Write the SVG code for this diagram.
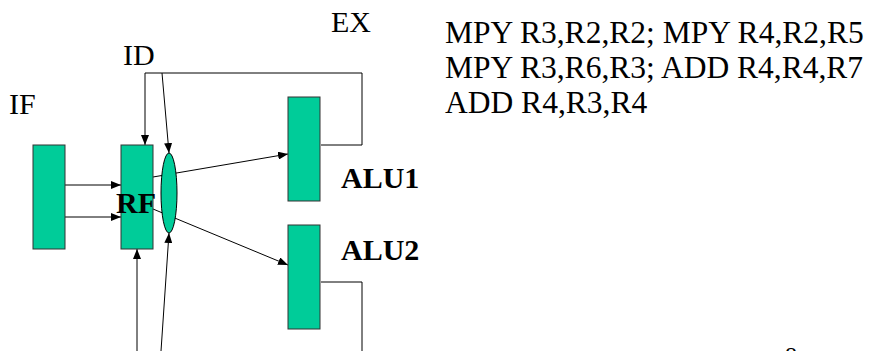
<svg xmlns="http://www.w3.org/2000/svg" width="874" height="351" viewBox="0 0 874 351">
<defs>
<marker id="ah" markerUnits="userSpaceOnUse" markerWidth="10" markerHeight="8" refX="10" refY="4" orient="auto">
<path d="M0,0 L10,4 L0,8 z" fill="#000"/>
</marker>
<style>
.box{fill:#00CC99;stroke:#333;stroke-width:1}
.ln{fill:none;stroke:#000;stroke-width:1}
.ar{fill:none;stroke:#000;stroke-width:1;marker-end:url(#ah)}
.lbl{font-family:"Liberation Serif","Times New Roman",serif;font-size:30px;fill:#000}
.bld{font-family:"Liberation Serif","Times New Roman",serif;font-size:30px;font-weight:bold;fill:#000}
.code{font-family:"Liberation Serif","Times New Roman",serif;font-size:31.5px;fill:#000}
</style>
</defs>
<rect width="874" height="351" fill="#fff"/>
<g id="connectors">
<line class="ar" x1="65" y1="185" x2="121" y2="185"/>
<line class="ar" x1="65" y1="217" x2="121" y2="217"/>
<line class="ar" x1="153" y1="177" x2="288" y2="154"/>
<line class="ar" x1="153" y1="209" x2="288" y2="265"/>
<path class="ln" d="M321,145 H362 V73 H145"/>
<line class="ar" x1="145" y1="73" x2="145" y2="145"/>
<line class="ar" x1="162" y1="73" x2="169" y2="153"/>
<path class="ln" d="M321,282 H362 V351"/>
<line class="ar" x1="137" y1="351" x2="137" y2="249"/>
<line class="ar" x1="161" y1="351" x2="169" y2="233"/>
</g>
<g id="if"><rect class="box" x="33" y="145" width="32" height="104"/></g>
<g id="rf"><rect class="box" x="121" y="145" width="32" height="104"/></g>
<g id="mux"><ellipse class="box" cx="169" cy="193" rx="8" ry="40" style="stroke:#000"/></g>
<g id="alu1"><rect class="box" x="288" y="97" width="32" height="104"/><text class="bld" x="341" y="188">ALU1</text></g>
<g id="alu2"><rect class="box" x="288" y="225" width="32" height="104"/><text class="bld" x="341" y="260">ALU2</text></g>
<g id="rflabel"><text class="bld" x="116" y="213">RF</text></g>
<g id="stages">
<text class="lbl" x="9" y="114">IF</text>
<text class="lbl" x="123" y="65">ID</text>
<text class="lbl" x="331" y="32">EX</text>
</g>
<g id="code">
<text class="code" x="445" y="43">MPY R3,R2,R2; MPY R4,R2,R5</text>
<text class="code" x="445" y="78">MPY R3,R6,R3; ADD R4,R4,R7</text>
<text class="code" x="445" y="113">ADD R4,R3,R4</text>
</g>
<text class="lbl" x="785" y="363" style="font-size:24px">8</text>
</svg>
